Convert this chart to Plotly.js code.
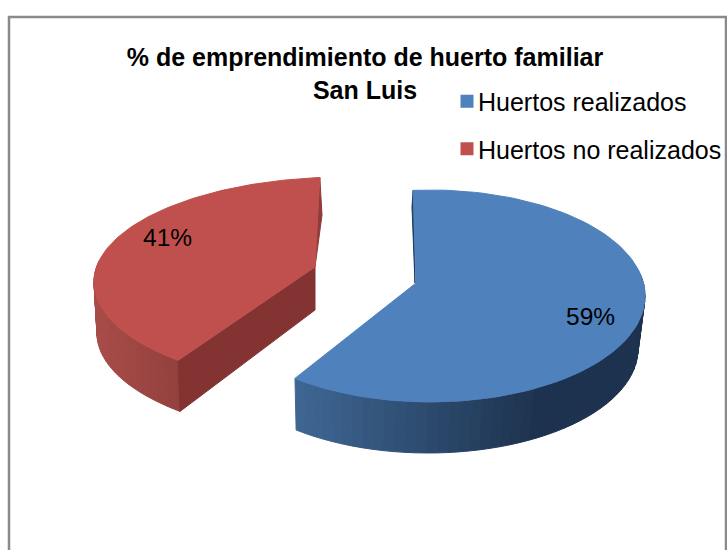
<!DOCTYPE html>
<html><head><meta charset="utf-8">
<script src="https://cdn.plot.ly/plotly-3.0.1.min.js"></script>
<style>html,body{margin:0;padding:0;background:#fff}#c{width:727px;height:550px}</style>
</head><body><div id="c"></div>
<script>
// Data
const categories = ["Huertos realizados", "Huertos no realizados"];
const shares = [59, 41];
const topColors = ["#4F81BD", "#C0504D"];
const titleLines = ["% de emprendimiento de huerto familiar", "San Luis"];

// Projection of each exploded 3D slice on the page
const views = [
  {top:{cx:430,cy:296,a:215,b:106}, bottom:{cx:428,cy:349,a:210,b:104}, apex:[416,283], apexDepth:0,
   start:-4.5, stretch:1.052, sideFrom:78, sideTo:218.9, sideL:[63,103,148], sideR:[29,50,78], gradL:296, gradR:540,
   sliver:[[412,207],[415,283]], sliverColor:"#1F3A5C", labelAt:[590,316]},
  {top:{cx:345,cy:282,a:251,b:105}, bottom:{cx:345,cy:333,a:248,b:105}, apex:[315,267], apexBottom:[315,310],
   start:221.7, stretch:0.898, sideFrom:221.7, sideTo:282, sideL:[168,76,72], sideR:[146,64,62], gradL:95, gradR:180,
   sliver:[[322,215],[315,267]], sliverColor:"#8F3B39", face:"#833432", labelAt:[167,237]}
];

const rad = d => d*Math.PI/180;
const pt = (e,t) => [e.cx + e.a*Math.sin(rad(t)), e.cy - e.b*Math.cos(rad(t))];
const arc = (e,from,to,n) => { const o=[]; for(let i=0;i<=n;i++) o.push(pt(e, from+(to-from)*i/n)); return o; };
const poly = (pts,color,extra) => Object.assign({x:pts.map(p=>p[0]).concat(pts[0][0]), y:pts.map(p=>p[1]).concat(pts[0][1]),
  type:"scatter", mode:"lines", fill:"toself", fillcolor:color, line:{color:color,width:1}, showlegend:false, hoverinfo:"skip"}, extra||{});

const traces = [];
const annotations = [];
views.forEach((v,i) => {
  const end = v.start + shares[i]/100*360*v.stretch;
  // thin inner wall seen at the upper radial edge
  const upper = i===0 ? pt(v.top,v.start) : pt(v.top,end);
  traces.push(poly([upper].concat(v.sliver), v.sliverColor));
  // outer wall with a stepped gradient
  const n = 48;
  for(let k=0;k<n;k++){
    const a = v.sideFrom+(v.sideTo-v.sideFrom)*k/n, b = v.sideFrom+(v.sideTo-v.sideFrom)*(k+1)/n;
    const p1=pt(v.top,a),p2=pt(v.top,b),p3=pt(v.bottom,b),p4=pt(v.bottom,a);
    const f=Math.max(0,Math.min(1,((p1[0]+p2[0])/2-v.gradL)/(v.gradR-v.gradL)));
    const c=v.sideL.map((l,j)=>Math.round(l+(v.sideR[j]-l)*f));
    traces.push(poly([p1,p2,p3,p4],`rgb(${c})`));
  }
  // inner wall in front of the lower radial edge
  if(v.face){
    const s=pt(v.top,v.start), sb=pt(v.bottom,v.start);
    traces.push(poly([s,v.apex,v.apexBottom,sb],v.face));
  }
  // top face
  traces.push(poly(arc(v.top,v.start,end,120).concat([v.apex]),topColors[i]));
  annotations.push({x:v.labelAt[0],y:v.labelAt[1],xref:"x",yref:"y",text:shares[i]+"%",showarrow:false,
    font:{family:"Liberation Sans",size:24.5,color:"#000"}});
});
// legend entries
categories.forEach((name,i)=>traces.push({x:[-100],y:[-100],type:"scatter",mode:"markers",name:name,legendgroup:"g"+i,
  marker:{symbol:"square",size:13,color:topColors[i]},hoverinfo:"skip"}));

const layout = {
  width:727,height:550,margin:{l:0,r:0,t:0,b:0},paper_bgcolor:"#fff",plot_bgcolor:"#fff",
  font:{family:"Liberation Sans"},
  title:{text:titleLines.join("<br>"),x:365/727,xanchor:"center",y:1-66/550,yanchor:"top",
    font:{family:"Liberation Sans",size:25,color:"#000",weight:"bold"}},
  xaxis:{range:[0,727],visible:false,fixedrange:true},
  yaxis:{range:[550,0],visible:false,fixedrange:true},
  legend:{x:438/727,xanchor:"left",y:1-78.5/550,yanchor:"top",tracegroupgap:12,bgcolor:"rgba(0,0,0,0)",
    font:{family:"Liberation Sans",size:25,color:"#000"}},
  annotations:annotations,
  shapes:[{type:"rect",xref:"paper",yref:"paper",x0:9/727,x1:726/727,y0:-0.05,y1:1-17/550,line:{color:"#8A8A8A",width:2.5},fillcolor:"rgba(0,0,0,0)"}]
};
Plotly.newPlot("c",traces,layout,{displayModeBar:false,staticPlot:true}).then(()=>{
  document.querySelectorAll("#c .legendsymbols").forEach(g=>g.setAttribute("transform","translate(9,0)"));
});
</script></body></html>
